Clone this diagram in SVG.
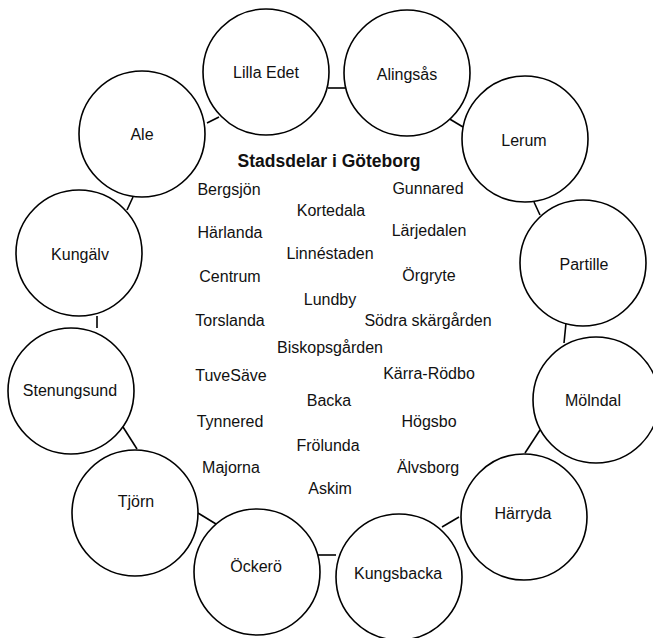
<svg xmlns="http://www.w3.org/2000/svg" width="653" height="638" viewBox="0 0 653 638">
<style>
.node circle{fill:#fff;stroke:#000;stroke-width:1.6}
text{font-family:"Liberation Sans",Arial,sans-serif;font-size:16px;fill:#111;text-anchor:middle}
.title{font-weight:bold;font-size:17.5px}
.edges line{stroke:#000;stroke-width:1.6}
</style>
<rect width="653" height="638" fill="#fff"/>
<g id="edges" class="edges">
<line x1="207" y1="123" x2="219" y2="117"/>
<line x1="328" y1="88" x2="345" y2="88"/>
<line x1="448" y1="118" x2="463" y2="127"/>
<line x1="534" y1="202" x2="540" y2="215"/>
<line x1="566" y1="323" x2="564" y2="343"/>
<line x1="540" y1="430" x2="525" y2="453"/>
<line x1="459" y1="517" x2="442" y2="527"/>
<line x1="336" y1="555" x2="318" y2="555"/>
<line x1="216" y1="524" x2="198" y2="513"/>
<line x1="137" y1="449" x2="123" y2="427"/>
<line x1="97" y1="328" x2="97" y2="316"/>
<line x1="127" y1="210" x2="133" y2="197"/>
</g>
<g id="ale" class="node"><circle cx="142" cy="134" r="63"/><text x="142" y="140">Ale</text></g>
<g id="lilla-edet" class="node"><circle cx="266" cy="72" r="63"/><text x="266" y="78">Lilla Edet</text></g>
<g id="alingsas" class="node"><circle cx="407" cy="73" r="63"/><text x="407" y="80">Alingsås</text></g>
<g id="lerum" class="node"><circle cx="525" cy="139" r="63"/><text x="524" y="146">Lerum</text></g>
<g id="partille" class="node"><circle cx="583" cy="263" r="63"/><text x="584" y="270">Partille</text></g>
<g id="molndal" class="node"><circle cx="596" cy="400" r="63"/><text x="593" y="406">Mölndal</text></g>
<g id="harryda" class="node"><circle cx="524" cy="517" r="63"/><text x="523" y="519">Härryda</text></g>
<g id="kungsbacka" class="node"><circle cx="399" cy="577" r="63"/><text x="398" y="579">Kungsbacka</text></g>
<g id="ockero" class="node"><circle cx="257" cy="572" r="63"/><text x="256" y="572">Öckerö</text></g>
<g id="tjorn" class="node"><circle cx="135" cy="513" r="63"/><text x="136" y="507">Tjörn</text></g>
<g id="stenungsund" class="node"><circle cx="71" cy="391" r="63"/><text x="70" y="396">Stenungsund</text></g>
<g id="kungalv" class="node"><circle cx="79" cy="253" r="63"/><text x="80" y="260">Kungälv</text></g>
<g id="stadsdelar">
<text class="title" x="329" y="167">Stadsdelar i Göteborg</text>
<text x="229" y="195">Bergsjön</text>
<text x="428" y="194">Gunnared</text>
<text x="331" y="216">Kortedala</text>
<text x="230" y="238">Härlanda</text>
<text x="429" y="236">Lärjedalen</text>
<text x="330" y="259">Linnéstaden</text>
<text x="230" y="282">Centrum</text>
<text x="429" y="281">Örgryte</text>
<text x="330" y="305">Lundby</text>
<text x="230" y="326">Torslanda</text>
<text x="428" y="326">Södra skärgården</text>
<text x="330" y="353">Biskopsgården</text>
<text x="231" y="381">TuveSäve</text>
<text x="429" y="379">Kärra-Rödbo</text>
<text x="329" y="406">Backa</text>
<text x="230" y="427">Tynnered</text>
<text x="429" y="427">Högsbo</text>
<text x="328" y="451">Frölunda</text>
<text x="231" y="473">Majorna</text>
<text x="428" y="473">Älvsborg</text>
<text x="330" y="494">Askim</text>
</g>
</svg>
